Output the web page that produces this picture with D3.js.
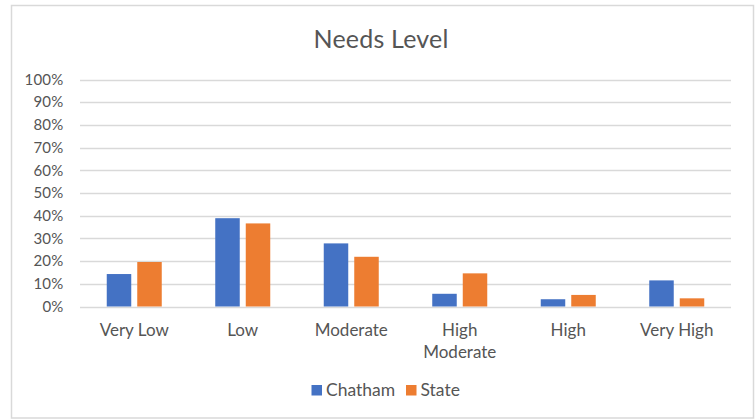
<!DOCTYPE html>
<html>
<head>
<meta charset="utf-8">
<script src="https://cdn.jsdelivr.net/npm/d3@7"></script>
<style>
html,body{margin:0;padding:0;background:#fff;}
svg{display:block;}
</style>
</head>
<body>
<svg id="chart" width="756" height="420"></svg>
<script>
const categories = [["Very Low"], ["Low"], ["Moderate"], ["High", "Moderate"], ["High"], ["Very High"]];
const seriesNames = ["Chatham", "State"];
const chatham = [14.3, 38.9, 27.8, 5.6, 3.2, 11.5];
const state = [19.6, 36.6, 21.9, 14.6, 5.1, 3.6];
const yTicks = [0, 10, 20, 30, 40, 50, 60, 70, 80, 90, 100];
const colors = ["#4472C4", "#ED7D31"];

(function () {
const svg = d3.select("#chart");
const font = "Lato, Carlito, Calibri, sans-serif";
const txt = "#555555";

// outer border
svg.append("rect").attr("x", 11.5).attr("y", 5.5).attr("width", 742).attr("height", 412.5)
  .attr("fill", "#fff").attr("stroke", "#d9d9d9").attr("stroke-width", 1.5);

const pLeft = 80, pRight = 731, pTop = 79.5, pBottom = 306.5;
const keys = categories.map(c => c.join(" "));
const x0 = d3.scaleBand().domain(keys).range([pLeft, pRight]).padding(0);
const x1 = d3.scaleBand().domain(seriesNames).range([0, x0.bandwidth()])
  .paddingInner(0.197).paddingOuter(0.877);
const y = d3.scaleLinear().domain([0, 100]).range([pBottom, pTop]);

// gridlines
svg.append("g").selectAll("line").data(yTicks).join("line")
  .attr("x1", pLeft).attr("x2", pRight)
  .attr("y1", d => Math.round(y(d)) + 0.5).attr("y2", d => Math.round(y(d)) + 0.5)
  .attr("stroke", "#d9d9d9").attr("stroke-width", 1.3);

// y labels
svg.append("g").selectAll("text").data(yTicks).join("text")
  .attr("x", 63.5).attr("y", d => y(d)).attr("dy", "0.35em")
  .attr("text-anchor", "end").attr("font-family", font).attr("font-size", 15)
  .attr("letter-spacing", 0.2)
  .attr("fill", txt).text(d => d + "%");

// bars
const data = keys.map((k, i) => ({ key: k, values: [chatham[i], state[i]] }));
const groups = svg.append("g").selectAll("g").data(data).join("g")
  .attr("transform", d => `translate(${x0(d.key)},0)`);
groups.selectAll("rect").data(d => d.values.map((v, j) => ({ s: seriesNames[j], v, j })))
  .join("rect")
  .attr("x", d => x1(d.s)).attr("width", x1.bandwidth())
  .attr("y", d => y(d.v)).attr("height", d => y(0) - y(d.v))
  .attr("fill", d => colors[d.j]);

// x labels
const xl = svg.append("g").selectAll("text").data(categories).join("text")
  .attr("x", (d, i) => x0(keys[i]) + x0.bandwidth() / 2)
  .attr("y", 336)
  .attr("text-anchor", "middle").attr("font-family", font).attr("font-size", 17)
  .attr("fill", txt);
xl.selectAll("tspan").data(d => d).join("tspan")
  .attr("x", function () { return this.parentNode.getAttribute("x"); })
  .attr("dy", (d, i) => i === 0 ? 0 : 21.5)
  .text(d => d);

// title
svg.append("text").attr("x", 381).attr("y", 48).attr("text-anchor", "middle")
  .attr("font-family", font).attr("font-size", 25).attr("letter-spacing", 0.2)
  .attr("fill", txt).text("Needs Level");

// legend
const legendX = [311.5, 406];
const lg = svg.append("g").selectAll("g").data(seriesNames).join("g")
  .attr("transform", (d, i) => `translate(${legendX[i]},385)`);
lg.append("rect").attr("width", 10.5).attr("height", 10.5).attr("fill", (d, i) => colors[i]);
lg.append("text").attr("x", 14.5).attr("y", 5.25).attr("dy", "0.35em")
  .attr("font-family", font).attr("font-size", 17.5).attr("fill", txt).text(d => d);
})();
</script>
</body>
</html>
